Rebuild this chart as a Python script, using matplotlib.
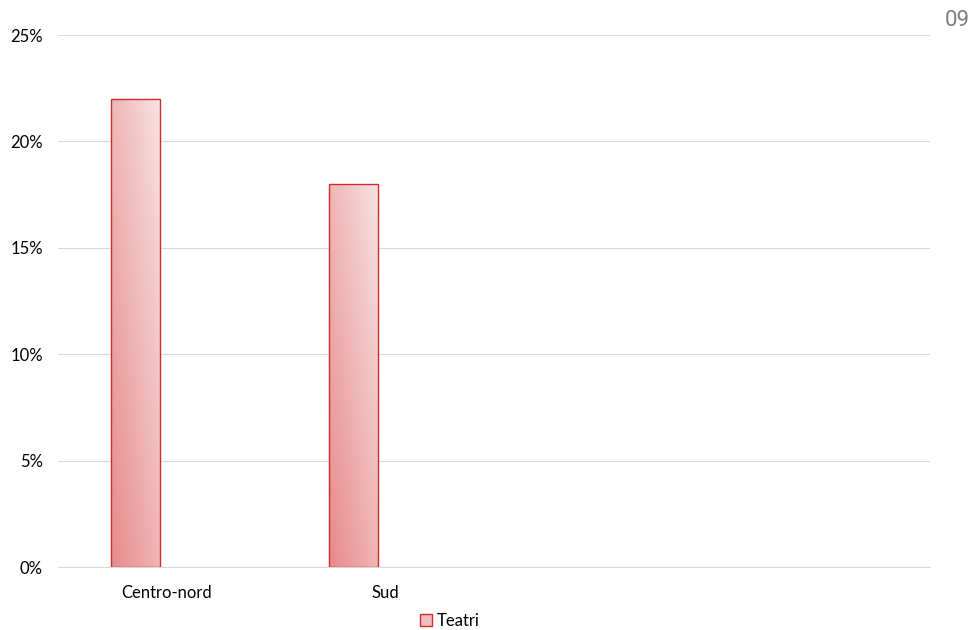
import numpy as np
import matplotlib
matplotlib.use("Agg")
import matplotlib.pyplot as plt
from matplotlib.colors import LinearSegmentedColormap
from matplotlib.patches import Patch

categories = ["Centro-nord", "Sud", "", ""]
teatri = [22, 18]
yticks = [0, 5, 10, 15, 20, 25]
ytick_labels = ["0%", "5%", "10%", "15%", "20%", "25%"]
series_name = "Teatri"

plt.rcParams['font.family'] = ['Lato', 'DejaVu Sans']

fig = plt.figure(figsize=(9.71, 6.30), dpi=100)
ax = fig.add_axes([58/971, 1-567/630, (930-58)/971, (567-35)/630])

cmap = LinearSegmentedColormap.from_list("g", ["#e88a8a", "#f7e2e2"])
offset = -0.144
width = 0.2248
x = np.arange(len(teatri)) + offset
bars = ax.bar(x, teatri, width=width, color="none", edgecolor="#d42a2a",
              linewidth=1.0, zorder=3)

gx, gy = np.meshgrid(np.linspace(0, 1, 64), np.linspace(0, 1, 256))
grad = (gx + gy) / 2
for b in bars:
    x0, y0 = b.get_x(), b.get_y()
    w, h = b.get_width(), b.get_height()
    im = ax.imshow(grad, cmap=cmap, origin="lower", aspect="auto",
                   extent=[x0, x0 + w, y0, y0 + h], zorder=2,
                   interpolation="bilinear")
    im.set_clip_path(b)

ax.set_xlim(-0.5, len(categories) - 0.5)
ax.set_ylim(0, 25)
ax.set_yticks(yticks)
ax.set_yticklabels(ytick_labels)
ax.set_xticks(range(len(categories)))
ax.set_xticklabels(categories)
ax.tick_params(length=0, labelsize=12, colors="#000000")
ax.tick_params(axis="x", pad=13)
ax.tick_params(axis="y", pad=11)
ax.grid(axis="y", color="#d9d9d9", linewidth=0.8, zorder=0)
ax.set_axisbelow(True)
for s in ["top", "right", "left"]:
    ax.spines[s].set_visible(False)
ax.spines["bottom"].set_color("#d9d9d9")
ax.spines["bottom"].set_linewidth(0.8)

handle = Patch(facecolor="#f0c0c0", edgecolor="#d42a2a", linewidth=1.0)
fig.legend([handle], [series_name], loc="center", bbox_to_anchor=(450/971, 1-621/630),
           frameon=False, fontsize=12, handlelength=0.7, handleheight=0.7,
           handletextpad=0.3, borderpad=0.1)

fig.text(945/971, 1-21/630, "09", fontsize=16, color="#7f7f7f",
         family=["Roboto", "DejaVu Sans"], fontweight="normal",
         ha="left", va="center")

fig.savefig("out.png", dpi=100)
